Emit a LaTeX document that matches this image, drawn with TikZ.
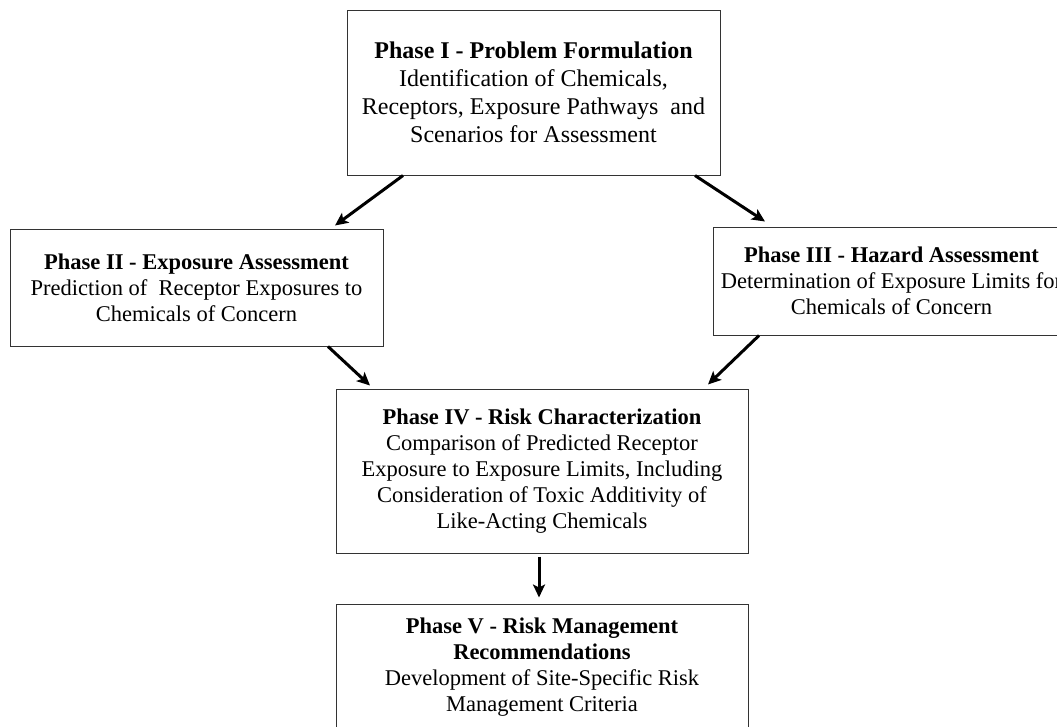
\documentclass[tikz,border=0pt]{standalone}
\usepackage{fontspec}
\setmainfont{Liberation Serif}
\usetikzlibrary{arrows.meta}
\tikzset{
  phasebox/.style={draw=black!80, line width=1pt, align=center, inner sep=0pt,
    font=\fontsize{22.5}{26}\selectfont},
  bigbox/.style={phasebox, font=\fontsize{24}{28}\selectfont},
  arr/.style={line width=3pt, -{Stealth[length=13pt,width=12pt,inset=3pt]}}
}
\begin{document}
\begin{tikzpicture}[x=1pt,y=-1pt]
\useasboundingbox (0,0) rectangle (1057,726);
\clip (0,0) rectangle (1057,726);
\node[bigbox, minimum width=373pt, minimum height=165pt] (p1) at (533.5,92.5)
  {\textbf{Phase I - Problem Formulation}\\Identification of Chemicals,\\Receptors, Exposure Pathways\ \ and\\Scenarios for Assessment};
\node[phasebox, minimum width=373pt, minimum height=117pt] (p2) at (196.5,287.5)
  {\textbf{Phase II - Exposure Assessment}\\Prediction of\ \ Receptor Exposures to\\Chemicals of Concern};
\node[phasebox, minimum width=357pt, minimum height=108pt] (p3) at (891.5,281)
  {\textbf{Phase III - Hazard Assessment}\\Determination of Exposure Limits for\\Chemicals of Concern};
\node[phasebox, minimum width=412pt, minimum height=164pt] (p4) at (542,471)
  {\textbf{Phase IV - Risk Characterization}\\Comparison of Predicted Receptor\\Exposure to Exposure Limits, Including\\Consideration of Toxic Additivity of\\Like-Acting Chemicals};
\node[phasebox, minimum width=412pt, minimum height=126pt] (p5) at (542,667)
  {\textbf{Phase V - Risk Management}\\\textbf{Recommendations}\\Development of Site-Specific Risk\\Management Criteria};
\draw[arr] ([xshift=-130.5pt]p1.south) -- ([xshift=138.5pt,yshift=3pt]p2.north);
\draw[arr] ([xshift=161.5pt]p1.south) -- ([xshift=-126.5pt,yshift=5pt]p3.north);
\draw[arr] ([xshift=131.5pt]p2.south) -- ([xshift=-172pt,yshift=3pt]p4.north);
\draw[arr] ([xshift=-132.5pt]p3.south) -- ([xshift=166pt,yshift=4pt]p4.north);
\draw[arr] ([xshift=-3pt,yshift=-3pt]p4.south) -- ([xshift=-3pt,yshift=6pt]p5.north);
\end{tikzpicture}
\end{document}
